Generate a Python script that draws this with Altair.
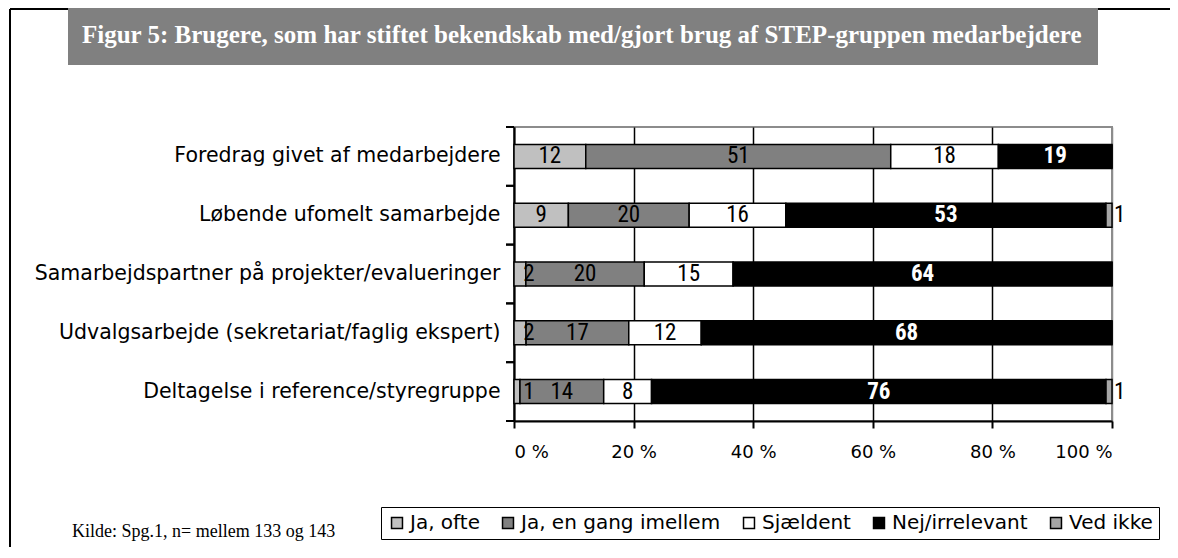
import altair as alt
import pandas as pd

categories = [
    "Foredrag givet af medarbejdere",
    "Løbende ufomelt samarbejde",
    "Samarbejdspartner på projekter/evalueringer",
    "Udvalgsarbejde (sekretariat/faglig ekspert)",
    "Deltagelse i reference/styregruppe",
]
series = ["Ja, ofte", "Ja, en gang imellem", "Sjældent", "Nej/irrelevant", "Ved ikke"]
ja_ofte = [12, 9, 2, 2, 1]
ja_en_gang = [51, 20, 20, 17, 14]
sjaeldent = [18, 16, 15, 12, 8]
nej = [19, 53, 64, 68, 76]
ved_ikke = [0, 1, 0, 0, 1]
colors = ["#c0c0c0", "#808080", "#ffffff", "#000000", "#a6a6a6"]
x_ticks = [0, 0.2, 0.4, 0.6, 0.8, 1.0]

title_text = "Figur 5: Brugere, som har stiftet bekendskab med/gjort brug af STEP-gruppen medarbejdere"
source_text = "Kilde: Spg.1, n= mellem 133 og 143"

rows = []
for s_i, (name, vals) in enumerate(zip(series, [ja_ofte, ja_en_gang, sjaeldent, nej, ved_ikke])):
    for c, v in zip(categories, vals):
        rows.append({"cat": c, "serie": name, "order": s_i, "value": v})
df = pd.DataFrame(rows)

SANS = "DejaVu Sans"
NARROW = "Liberation Sans Narrow, Roboto Condensed, Liberation Sans"
SERIF = "Liberation Serif"

yscale = alt.Scale(domain=categories, paddingInner=0, paddingOuter=0)

base = alt.Chart(df).transform_stack(
    stack="value", groupby=["cat"], as_=["v0", "v1"], offset="normalize",
    sort=[alt.SortField("order", order="ascending")]
).transform_calculate(
    mid="max((datum.v0 + datum.v1) / 2, 0.025)"
)

yenc = alt.Y("cat:N", sort=categories, title=None, scale=yscale,
             axis=alt.Axis(ticks=False, labelPadding=14, labelFont=SANS, labelFontSize=20.5,
                           labelColor="black", domainColor="black", domainWidth=2, labelLimit=600))

bars = base.mark_bar(size=24, stroke="black", strokeWidth=1.5).encode(
    x=alt.X("v0:Q", scale=alt.Scale(domain=[0, 1], nice=False), title=None,
            axis=alt.Axis(values=x_ticks, labelExpr="format(datum.value*100,'d') + ' %'",
                          labelFont=SANS, labelFontSize=18, labelColor="black", labelPadding=15,
                          tickSize=7, tickWidth=2, tickColor="black",
                          domainColor="black", domainWidth=2,
                          grid=True, gridWidth=1.5,
                          gridColor={"condition": {"test": "datum.value === 1", "value": "#8c8c8c"}, "value": "black"})),
    x2="v1:Q",
    y=yenc,
    color=alt.Color("serie:N", scale=alt.Scale(domain=series, range=colors),
                    legend=alt.Legend(orient="none", legendX=-133, legendY=380, direction="horizontal",
                                      title=None, strokeColor="black", padding=6,
                                      labelFont=SANS, labelFontSize=20, labelColor="black",
                                      symbolType="square", symbolSize=120, symbolStrokeColor="black",
                                      symbolStrokeWidth=1.5, symbolOpacity=1, columnPadding=18,
                                      labelOffset=3, labelLimit=400)),
)

inner = base.transform_filter(
    "datum.value > 0 && datum.order < 3"
).mark_text(font=NARROW, fontSize=23, color="black").encode(
    x="mid:Q", y=alt.Y("cat:N", sort=categories, scale=yscale), text="value:Q")

nej_lbl = base.transform_filter(
    "datum.order == 3"
).mark_text(font=NARROW, fontSize=23, fontWeight="bold", color="white").encode(
    x="mid:Q", y=alt.Y("cat:N", sort=categories, scale=yscale), text="value:Q")

out_lbl = base.transform_filter(
    "datum.order == 4 && datum.value > 0"
).mark_text(font=NARROW, fontSize=23, color="black", align="left", dx=2).encode(
    x="v1:Q", y=alt.Y("cat:N", sort=categories, scale=yscale), text="value:Q")

tick_df = pd.DataFrame({"cat": categories})
ticks_top = alt.Chart(tick_df).mark_rule(color="black", strokeWidth=2).encode(
    y=alt.Y("cat:N", sort=categories, scale=yscale, bandPosition=0), x=alt.value(-8), x2=alt.value(0))
ticks_bot = alt.Chart(tick_df).mark_rule(color="black", strokeWidth=2).encode(
    y=alt.Y("cat:N", sort=categories, scale=yscale, bandPosition=1), x=alt.value(-8), x2=alt.value(0))

deco = pd.DataFrame({"t": [title_text], "s": [source_text]})
title_box = alt.Chart(deco).mark_rect(color="#808080").encode(
    x=alt.value(-446), x2=alt.value(584), y=alt.value(-119), y2=alt.value(-62))
title_lbl = alt.Chart(deco).mark_text(font=SERIF, fontSize=25, fontWeight="bold", color="white",
                                      align="left", baseline="middle").encode(
    text="t:N", x=alt.value(-432), y=alt.value(-92))
source_lbl = alt.Chart(deco).mark_text(font=SERIF, fontSize=18, color="black",
                                       align="left", baseline="middle").encode(
    text="s:N", x=alt.value(-442), y=alt.value(405))
frame_left = alt.Chart(deco).mark_rule(color="black", strokeWidth=2).encode(
    x=alt.value(-504), y=alt.value(-118), y2=alt.value(420))
frame_top = alt.Chart(deco).mark_rule(color="black", strokeWidth=2).encode(
    x=alt.value(-504), x2=alt.value(660), y=alt.value(-118))

chart = alt.layer(
    frame_left, frame_top, title_box, title_lbl, source_lbl,
    bars, inner, nej_lbl, out_lbl, ticks_top, ticks_bot
).properties(
    width=598, height=294,
    autosize=alt.AutoSizeParams(type="none"),
    padding={"left": 506, "top": 119, "right": 58, "bottom": 129},
).configure_view(stroke="#8c8c8c", strokeWidth=2).configure_axisY(
    grid=False
)

chart.save("out.html", embed_options={"renderer": "svg", "actions": False})
